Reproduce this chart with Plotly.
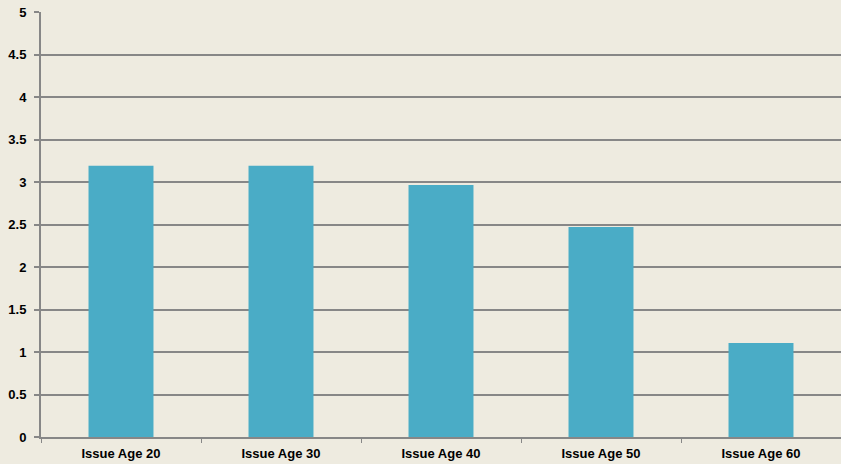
import plotly.graph_objects as go

# Chart data
categories = ["Issue Age 20", "Issue Age 30", "Issue Age 40", "Issue Age 50", "Issue Age 60"]
values = [3.19, 3.19, 2.965, 2.47, 1.105]
y_ticks = [0, 0.5, 1, 1.5, 2, 2.5, 3, 3.5, 4, 4.5, 5]
y_tick_labels = ["0", "0.5", "1", "1.5", "2", "2.5", "3", "3.5", "4", "4.5", "5"]

BG = "#EEEBE0"
BAR = "#4AACC6"
GRID = "#878787"
FONT = "Liberation Sans, Arial, sans-serif"

fig = go.Figure(
    go.Bar(
        x=categories,
        y=values,
        marker=dict(color=BAR, line=dict(width=0)),
        width=0.406,
        hoverinfo="x+y",
    )
)

fig.update_layout(
    width=841,
    height=464,
    margin=dict(l=41, r=0, t=12, b=27),
    paper_bgcolor=BG,
    plot_bgcolor=BG,
    showlegend=False,
    font=dict(family=FONT, color="#000000"),
)

fig.update_xaxes(
    showline=True,
    linecolor=GRID,
    linewidth=2,
    ticks="outside",
    tickson="boundaries",
    ticklen=4,
    tickcolor=GRID,
    tickwidth=1,
    showgrid=False,
    tickfont=dict(family=FONT, size=13, weight="bold", color="#000000"),
    ticklabelstandoff=3,
)

fig.update_yaxes(
    range=[0, 5],
    tickvals=y_ticks,
    ticktext=y_tick_labels,
    showline=True,
    linecolor=GRID,
    linewidth=2,
    ticks="outside",
    ticklen=5,
    tickcolor=GRID,
    tickwidth=1.5,
    showgrid=True,
    gridcolor=GRID,
    gridwidth=1.5,
    zeroline=False,
    tickfont=dict(family=FONT, size=13, weight="bold", color="#000000"),
    ticklabelstandoff=5,
)

fig.write_html("out.html")
